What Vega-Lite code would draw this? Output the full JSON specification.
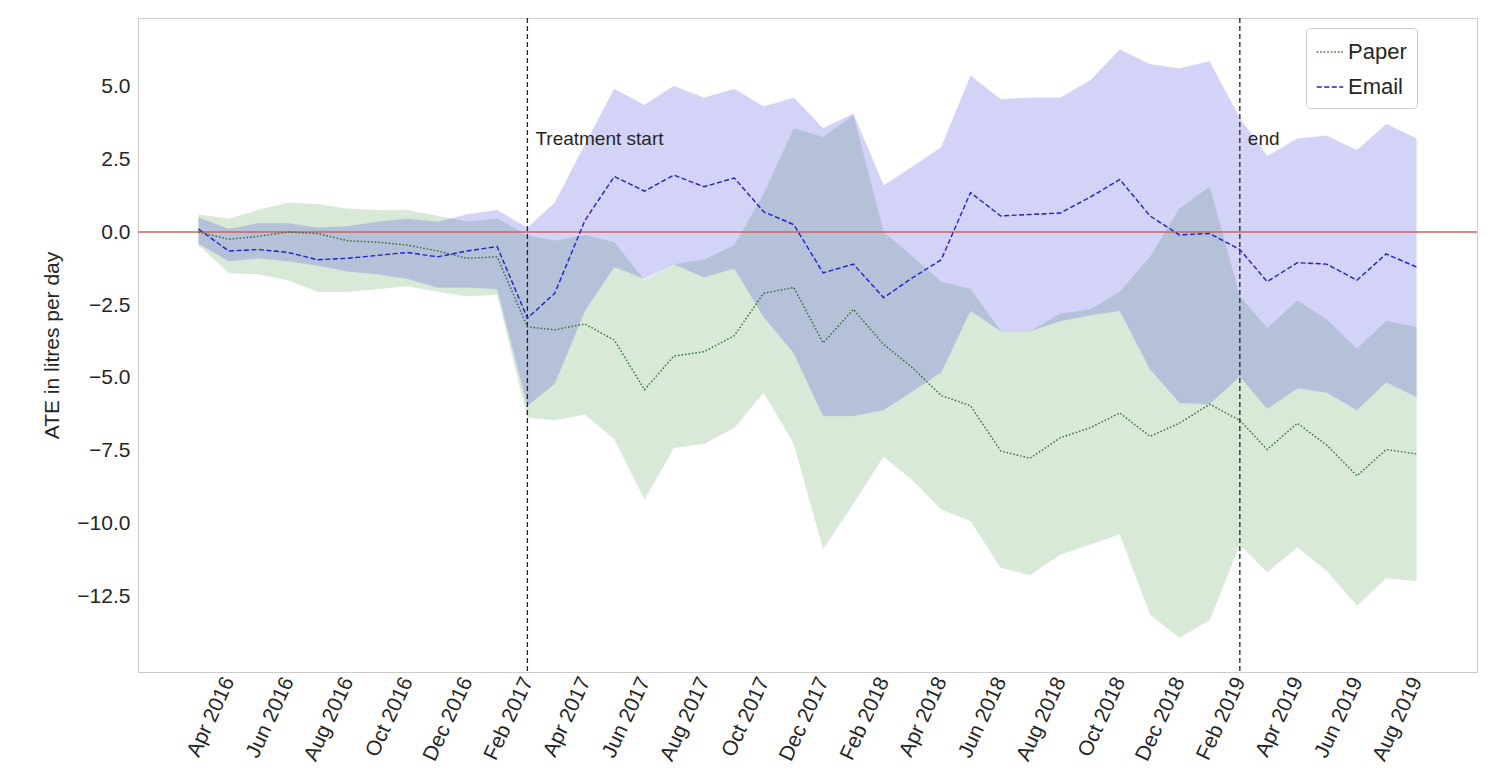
{
  "$schema": "https://vega.github.io/schema/vega-lite/v6.json",
  "width": 1339,
  "height": 654,
  "autosize": {"type": "none"},
  "padding": {"left": 138, "top": 18, "right": 20, "bottom": 108},
  "background": "white",
  "config": {
    "font": "Liberation Sans",
    "view": {"stroke": "#cccccc", "strokeWidth": 1},
    "axis": {"grid": false, "domain": false, "ticks": false, "labelFontSize": 21, "labelColor": "#262626", "titleFontSize": 21, "titleFontWeight": "normal", "titleColor": "#262626"}
  },
  "datasets": {
    "ate": [
      {"date": "2016-03-01", "group": "Email", "ate": 0.1, "lo": -0.4, "hi": 0.5},
      {"date": "2016-04-01", "group": "Email", "ate": -0.65, "lo": -1.0, "hi": 0.1},
      {"date": "2016-05-01", "group": "Email", "ate": -0.6, "lo": -0.9, "hi": 0.3},
      {"date": "2016-06-01", "group": "Email", "ate": -0.7, "lo": -1.0, "hi": 0.3},
      {"date": "2016-07-01", "group": "Email", "ate": -0.95, "lo": -1.15, "hi": 0.15},
      {"date": "2016-08-01", "group": "Email", "ate": -0.9, "lo": -1.35, "hi": 0.2},
      {"date": "2016-09-01", "group": "Email", "ate": -0.8, "lo": -1.45, "hi": 0.35},
      {"date": "2016-10-01", "group": "Email", "ate": -0.7, "lo": -1.6, "hi": 0.45},
      {"date": "2016-11-01", "group": "Email", "ate": -0.85, "lo": -1.9, "hi": 0.35},
      {"date": "2016-12-01", "group": "Email", "ate": -0.65, "lo": -1.9, "hi": 0.6},
      {"date": "2017-01-01", "group": "Email", "ate": -0.5, "lo": -1.95, "hi": 0.75},
      {"date": "2017-02-01", "group": "Email", "ate": -2.95, "lo": -5.95, "hi": 0.15},
      {"date": "2017-03-01", "group": "Email", "ate": -2.1, "lo": -5.2, "hi": 1.0},
      {"date": "2017-04-01", "group": "Email", "ate": 0.4, "lo": -2.7, "hi": 3.0},
      {"date": "2017-05-01", "group": "Email", "ate": 1.9, "lo": -1.2, "hi": 4.9},
      {"date": "2017-06-01", "group": "Email", "ate": 1.4, "lo": -1.6, "hi": 4.35},
      {"date": "2017-07-01", "group": "Email", "ate": 1.95, "lo": -1.1, "hi": 5.0},
      {"date": "2017-08-01", "group": "Email", "ate": 1.55, "lo": -1.55, "hi": 4.6},
      {"date": "2017-09-01", "group": "Email", "ate": 1.85, "lo": -1.25, "hi": 4.9},
      {"date": "2017-10-01", "group": "Email", "ate": 0.7, "lo": -2.9, "hi": 4.3},
      {"date": "2017-11-01", "group": "Email", "ate": 0.25, "lo": -4.15, "hi": 4.6},
      {"date": "2017-12-01", "group": "Email", "ate": -1.4, "lo": -6.3, "hi": 3.55},
      {"date": "2018-01-01", "group": "Email", "ate": -1.1, "lo": -6.3, "hi": 4.05},
      {"date": "2018-02-01", "group": "Email", "ate": -2.25, "lo": -6.1, "hi": 1.6},
      {"date": "2018-03-01", "group": "Email", "ate": -1.6, "lo": -5.5, "hi": 2.2},
      {"date": "2018-04-01", "group": "Email", "ate": -0.95, "lo": -4.8, "hi": 2.9},
      {"date": "2018-05-01", "group": "Email", "ate": 1.35, "lo": -2.7, "hi": 5.35},
      {"date": "2018-06-01", "group": "Email", "ate": 0.55, "lo": -3.4, "hi": 4.55},
      {"date": "2018-07-01", "group": "Email", "ate": 0.6, "lo": -3.4, "hi": 4.6},
      {"date": "2018-08-01", "group": "Email", "ate": 0.65, "lo": -3.05, "hi": 4.6},
      {"date": "2018-09-01", "group": "Email", "ate": 1.2, "lo": -2.85, "hi": 5.2},
      {"date": "2018-10-01", "group": "Email", "ate": 1.8, "lo": -2.7, "hi": 6.25},
      {"date": "2018-11-01", "group": "Email", "ate": 0.55, "lo": -4.7, "hi": 5.75},
      {"date": "2018-12-01", "group": "Email", "ate": -0.1, "lo": -5.85, "hi": 5.6},
      {"date": "2019-01-01", "group": "Email", "ate": -0.05, "lo": -5.9, "hi": 5.85},
      {"date": "2019-02-01", "group": "Email", "ate": -0.6, "lo": -4.95, "hi": 3.9},
      {"date": "2019-03-01", "group": "Email", "ate": -1.7, "lo": -6.05, "hi": 2.6},
      {"date": "2019-04-01", "group": "Email", "ate": -1.05, "lo": -5.35, "hi": 3.2},
      {"date": "2019-05-01", "group": "Email", "ate": -1.1, "lo": -5.5, "hi": 3.3},
      {"date": "2019-06-01", "group": "Email", "ate": -1.65, "lo": -6.1, "hi": 2.8},
      {"date": "2019-07-01", "group": "Email", "ate": -0.75, "lo": -5.15, "hi": 3.7},
      {"date": "2019-08-01", "group": "Email", "ate": -1.2, "lo": -5.65, "hi": 3.2},
      {"date": "2016-03-01", "group": "Paper", "ate": 0.0, "lo": -0.45, "hi": 0.6},
      {"date": "2016-04-01", "group": "Paper", "ate": -0.25, "lo": -1.4, "hi": 0.45},
      {"date": "2016-05-01", "group": "Paper", "ate": -0.15, "lo": -1.45, "hi": 0.75},
      {"date": "2016-06-01", "group": "Paper", "ate": 0.0, "lo": -1.65, "hi": 1.0},
      {"date": "2016-07-01", "group": "Paper", "ate": -0.05, "lo": -2.05, "hi": 0.95},
      {"date": "2016-08-01", "group": "Paper", "ate": -0.3, "lo": -2.05, "hi": 0.8},
      {"date": "2016-09-01", "group": "Paper", "ate": -0.35, "lo": -1.95, "hi": 0.75},
      {"date": "2016-10-01", "group": "Paper", "ate": -0.45, "lo": -1.85, "hi": 0.75},
      {"date": "2016-11-01", "group": "Paper", "ate": -0.65, "lo": -2.05, "hi": 0.55},
      {"date": "2016-12-01", "group": "Paper", "ate": -0.9, "lo": -2.2, "hi": 0.35},
      {"date": "2017-01-01", "group": "Paper", "ate": -0.85, "lo": -2.15, "hi": 0.45},
      {"date": "2017-02-01", "group": "Paper", "ate": -3.25, "lo": -6.35, "hi": -0.1},
      {"date": "2017-03-01", "group": "Paper", "ate": -3.35, "lo": -6.45, "hi": -0.3},
      {"date": "2017-04-01", "group": "Paper", "ate": -3.15, "lo": -6.25, "hi": -0.1},
      {"date": "2017-05-01", "group": "Paper", "ate": -3.7, "lo": -7.1, "hi": -0.35},
      {"date": "2017-06-01", "group": "Paper", "ate": -5.4, "lo": -9.15, "hi": -1.65},
      {"date": "2017-07-01", "group": "Paper", "ate": -4.25, "lo": -7.4, "hi": -1.1},
      {"date": "2017-08-01", "group": "Paper", "ate": -4.1, "lo": -7.25, "hi": -0.95},
      {"date": "2017-09-01", "group": "Paper", "ate": -3.55, "lo": -6.7, "hi": -0.45},
      {"date": "2017-10-01", "group": "Paper", "ate": -2.1, "lo": -5.5, "hi": 1.3},
      {"date": "2017-11-01", "group": "Paper", "ate": -1.9, "lo": -7.25, "hi": 3.55},
      {"date": "2017-12-01", "group": "Paper", "ate": -3.8, "lo": -10.85, "hi": 3.25},
      {"date": "2018-01-01", "group": "Paper", "ate": -2.65, "lo": -9.3, "hi": 4.0},
      {"date": "2018-02-01", "group": "Paper", "ate": -3.85, "lo": -7.7, "hi": 0.0},
      {"date": "2018-03-01", "group": "Paper", "ate": -4.6, "lo": -8.45, "hi": -0.8},
      {"date": "2018-04-01", "group": "Paper", "ate": -5.6, "lo": -9.5, "hi": -1.7},
      {"date": "2018-05-01", "group": "Paper", "ate": -5.95, "lo": -9.9, "hi": -1.95},
      {"date": "2018-06-01", "group": "Paper", "ate": -7.5, "lo": -11.5, "hi": -3.4},
      {"date": "2018-07-01", "group": "Paper", "ate": -7.75, "lo": -11.75, "hi": -3.4},
      {"date": "2018-08-01", "group": "Paper", "ate": -7.05, "lo": -11.05, "hi": -2.8},
      {"date": "2018-09-01", "group": "Paper", "ate": -6.7, "lo": -10.7, "hi": -2.65},
      {"date": "2018-10-01", "group": "Paper", "ate": -6.2, "lo": -10.35, "hi": -2.05},
      {"date": "2018-11-01", "group": "Paper", "ate": -7.0, "lo": -13.1, "hi": -0.85},
      {"date": "2018-12-01", "group": "Paper", "ate": -6.55, "lo": -13.9, "hi": 0.8},
      {"date": "2019-01-01", "group": "Paper", "ate": -5.9, "lo": -13.3, "hi": 1.55},
      {"date": "2019-02-01", "group": "Paper", "ate": -6.45, "lo": -10.7, "hi": -2.2},
      {"date": "2019-03-01", "group": "Paper", "ate": -7.45, "lo": -11.65, "hi": -3.3},
      {"date": "2019-04-01", "group": "Paper", "ate": -6.55, "lo": -10.8, "hi": -2.35},
      {"date": "2019-05-01", "group": "Paper", "ate": -7.3, "lo": -11.6, "hi": -3.0},
      {"date": "2019-06-01", "group": "Paper", "ate": -8.35, "lo": -12.8, "hi": -4.0},
      {"date": "2019-07-01", "group": "Paper", "ate": -7.45, "lo": -11.85, "hi": -3.05},
      {"date": "2019-08-01", "group": "Paper", "ate": -7.6, "lo": -11.95, "hi": -3.25}
    ],
    "events": [
      {"date": "2017-02-01", "label": "Treatment start", "y": 3.2},
      {"date": "2019-02-01", "label": "end", "y": 3.2}
    ]
  },
  "data": {"name": "ate"},
  "encoding": {
    "x": {
      "field": "date", "type": "temporal", "title": null,
      "scale": {"type": "utc", "domain": [{"year": 2015, "month": 12, "date": 30, "utc": true}, {"year": 2019, "month": 10, "date": 2, "utc": true}]},
      "axis": {
        "format": "%b %Y", "labelAngle": -65, "labelPadding": 6,
        "values": [
          {"year": 2016, "month": 4, "date": 1, "utc": true}, {"year": 2016, "month": 6, "date": 1, "utc": true},
          {"year": 2016, "month": 8, "date": 1, "utc": true}, {"year": 2016, "month": 10, "date": 1, "utc": true},
          {"year": 2016, "month": 12, "date": 1, "utc": true}, {"year": 2017, "month": 2, "date": 1, "utc": true},
          {"year": 2017, "month": 4, "date": 1, "utc": true}, {"year": 2017, "month": 6, "date": 1, "utc": true},
          {"year": 2017, "month": 8, "date": 1, "utc": true}, {"year": 2017, "month": 10, "date": 1, "utc": true},
          {"year": 2017, "month": 12, "date": 1, "utc": true}, {"year": 2018, "month": 2, "date": 1, "utc": true},
          {"year": 2018, "month": 4, "date": 1, "utc": true}, {"year": 2018, "month": 6, "date": 1, "utc": true},
          {"year": 2018, "month": 8, "date": 1, "utc": true}, {"year": 2018, "month": 10, "date": 1, "utc": true},
          {"year": 2018, "month": 12, "date": 1, "utc": true}, {"year": 2019, "month": 2, "date": 1, "utc": true},
          {"year": 2019, "month": 4, "date": 1, "utc": true}, {"year": 2019, "month": 6, "date": 1, "utc": true},
          {"year": 2019, "month": 8, "date": 1, "utc": true}
        ]
      }
    }
  },
  "layer": [
    {
      "transform": [{"filter": "datum.group === 'Paper'"}],
      "mark": {"type": "area", "color": "#2e8b2e", "opacity": 0.18, "stroke": "#2e8b2e", "strokeOpacity": 0.2, "strokeWidth": 1},
      "encoding": {
        "y": {"field": "lo", "type": "quantitative", "scale": {"domain": [-15.07, 7.33], "nice": false, "zero": false},
          "axis": {"values": [-12.5, -10, -7.5, -5, -2.5, 0, 2.5, 5], "format": ".1f", "title": "ATE in litres per day", "titlePadding": 14, "labelPadding": 8}},
        "y2": {"field": "hi"}
      }
    },
    {
      "transform": [{"filter": "datum.group === 'Email'"}],
      "mark": {"type": "area", "color": "#2828e0", "opacity": 0.2, "stroke": "#2828e0", "strokeOpacity": 0.2, "strokeWidth": 1},
      "encoding": {
        "y": {"field": "lo", "type": "quantitative"},
        "y2": {"field": "hi"}
      }
    },
    {
      "mark": {"type": "rule", "color": "#c86464", "strokeWidth": 1.5},
      "data": {"values": [{"v": 0}]},
      "encoding": {"y": {"field": "v", "type": "quantitative"}, "x": null}
    },
    {
      "data": {"name": "events"},
      "mark": {"type": "rule", "color": "#222222", "strokeDash": [5, 3], "strokeWidth": 1.3},
      "encoding": {}
    },
    {
      "data": {"name": "events"},
      "mark": {"type": "text", "align": "left", "dx": 8, "fontSize": 19, "color": "#262626"},
      "encoding": {"y": {"field": "y", "type": "quantitative"}, "text": {"field": "label"}}
    },
    {
      "mark": {"type": "line", "strokeWidth": 1.4},
      "encoding": {
        "y": {"field": "ate", "type": "quantitative"},
        "color": {"field": "group", "type": "nominal", "scale": {"domain": ["Paper", "Email"], "range": ["#2d6a2d", "#2020d0"]},
          "legend": {"title": null, "orient": "none", "legendX": 1168, "legendY": 10, "labelFontSize": 22, "labelColor": "#262626",
            "symbolType": "stroke", "symbolSize": 700, "symbolStrokeWidth": 1.4, "rowPadding": 10, "padding": 10,
            "strokeColor": "#cccccc", "fillColor": "white", "cornerRadius": 4}},
        "strokeDash": {"field": "group", "type": "nominal", "scale": {"domain": ["Paper", "Email"], "range": [[1.5, 2], [5, 2.5]]}}
      }
    }
  ]
}
